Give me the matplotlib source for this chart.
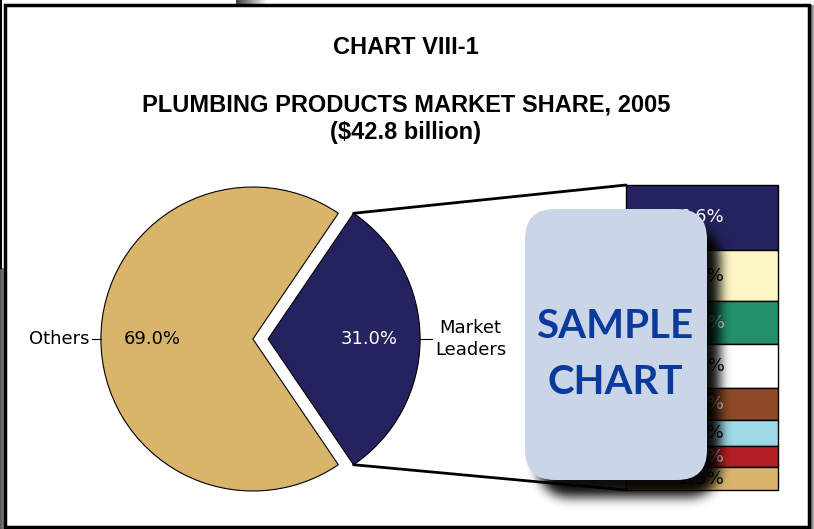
import numpy as np
import matplotlib
matplotlib.use("Agg")
import matplotlib.pyplot as plt
from matplotlib.patches import ConnectionPatch, FancyBboxPatch, Rectangle

# main pie
pie_labels = ["Market\nLeaders", "Others"]
pie_values = [31.0, 69.0]
pie_colors = ["#25235f", "#d9b46b"]

# breakdown of the market leaders (top to bottom)
bar_values = [6.6, 5.2, 4.4, 4.4, 3.3, 2.6, 2.2, 2.3]
bar_colors = ["#25235f", "#fbf6c3", "#23906a", "#ffffff",
              "#8e4a27", "#9fd8e6", "#b31f26", "#d9b46b"]
bar_text = ["white", "black", "white", "black", "white", "black", "white", "black"]

W, H = 814, 529
fig = plt.figure(figsize=(W / 100, H / 100), dpi=100)


def px_axes(x, y, w, h, **kw):
    return fig.add_axes([x / W, 1 - (y + h) / H, w / W, h / H], **kw)


def box_blur(a, k, axis):
    c = np.cumsum(np.pad(a, [(k + 1, k) if i == axis else (0, 0) for i in range(2)],
                         mode="edge"), axis=axis)
    if axis == 0:
        return (c[2 * k + 1:] - c[:-2 * k - 1]) / (2 * k + 1)
    return (c[:, 2 * k + 1:] - c[:, :-2 * k - 1]) / (2 * k + 1)


# background: page frame
bg = px_axes(0, 0, W, H)
bg.imshow(np.tile(np.linspace(0.25, 0.95, 30), (5, 1)), cmap="gray", vmin=0, vmax=1,
          extent=(236, 266, 5, 0), aspect="auto")
bg.imshow(np.tile(np.linspace(0.2, 0.85, 8), (10, 1)), cmap="gray", vmin=0, vmax=1,
          extent=(808, 816, H, 5), aspect="auto")
bg.imshow(np.tile(np.linspace(0.35, 0.55, 5), (10, 1)), cmap="gray", vmin=0, vmax=1,
          extent=(0, 5, H, 268), aspect="auto")
bg.plot([1, 1], [0, 268], color="black", lw=1.5)
bg.add_patch(Rectangle((5, 5), 804, 522, fill=False, ec="black", lw=2.5))
bg.set_xlim(0, W)
bg.set_ylim(H, 0)
bg.axis("off")

fig.text(406 / W, 1 - 48 / H, "CHART VIII-1", ha="center", va="center",
         fontsize=17, fontweight="bold", family="Liberation Sans")
fig.text(406 / W, 1 - 105 / H, "PLUMBING PRODUCTS MARKET SHARE, 2005", ha="center",
         va="center", fontsize=17, fontweight="bold", family="Liberation Sans")
fig.text(406 / W, 1 - 133 / H, "($42.8 billion)", ha="center", va="center",
         fontsize=17, fontweight="bold", family="Liberation Sans")

# pie
R = 152
cx, cy = 260.5, 339
ax1 = px_axes(cx - 1.2 * R, cy - 1.2 * R, 2.4 * R, 2.4 * R)
half = pie_values[0] / 100 * 180
wedges, texts, autotexts = ax1.pie(
    pie_values, colors=pie_colors, startangle=-half, explode=[0.05, 0.05],
    autopct="%1.1f%%", pctdistance=0.665,
    wedgeprops=dict(edgecolor="black", linewidth=0.8),
    textprops=dict(fontsize=13, family="DejaVu Sans"))
autotexts[0].set_color("white")
autotexts[1].set_color("black")
ax1.set_xlim(-1.2, 1.2)
ax1.set_ylim(-1.2, 1.2)
ax1.axis("off")

ax1.plot([-1.108, -1.05], [0, 0], color="black", lw=0.8)
ax1.text(-1.122, 0, "Others", ha="right", va="center", fontsize=13)
ax1.plot([1.05, 1.128], [0, 0], color="black", lw=0.8)
ax1.text(1.148, 0, "Market\nLeaders", ha="left", va="center", fontsize=13,
         multialignment="center", linespacing=1.35)

# stacked bar
ax2 = px_axes(626, 185, 152, 305)
total = sum(bar_values)
bottom = 0
for v, c, tc in zip(bar_values, bar_colors, bar_text):
    ax2.bar(0, v, width=1, bottom=bottom, color=c, edgecolor="black",
            linewidth=1, clip_on=False)
    ax2.text(0, bottom + v / 2, f"{v:.1f}%", ha="center", va="center",
             fontsize=13, color=tc)
    bottom += v
ax2.set_xlim(-0.5, 0.5)
ax2.set_ylim(total, 0)
ax2.axis("off")

# connectors
th = np.deg2rad(half)
for yb, sgn in [(0, 1), (total, -1)]:
    con = ConnectionPatch(xyA=(-0.5, yb), coordsA=ax2.transData,
                          xyB=(0.05 + np.cos(th), sgn * np.sin(th)),
                          coordsB=ax1.transData, color="black", lw=2)
    ax2.add_artist(con)

# sample overlay with soft shadow
ov = px_axes(0, 0, W, H)
bx, by, bw, bh, rr = 525, 209, 182, 271, 30
yy, xx = np.mgrid[0:H, 0:W] + 0.5
sx, sy = bx + 13, by + 17
ddx = np.maximum(np.abs(xx - (sx + bw / 2)) - (bw / 2 - rr), 0)
ddy = np.maximum(np.abs(yy - (sy + bh / 2)) - (bh / 2 - rr), 0)
mask = (np.hypot(ddx, ddy) <= rr).astype(float)
for _ in range(3):
    mask = box_blur(box_blur(mask, 5, 0), 5, 1)
shadow = np.zeros((H, W, 4))
shadow[..., 3] = np.clip(mask * 0.95, 0, 1)
ov.imshow(shadow, extent=(0, W, H, 0), interpolation="bilinear")
ov.add_patch(FancyBboxPatch((bx, by), bw, bh,
                            boxstyle=f"round,pad=0,rounding_size={rr}",
                            fc="#cbd5e8", ec="none"))
ov.text(615, 327, "SAMPLE", ha="center", va="center", fontsize=29,
        fontweight="bold", color="#0a3a9b", family="Lato")
ov.text(615, 382, "CHART", ha="center", va="center", fontsize=29,
        fontweight="bold", color="#0a3a9b", family="Lato")
ov.set_xlim(0, W)
ov.set_ylim(H, 0)
ov.axis("off")

fig.savefig("out.png", dpi=100)
